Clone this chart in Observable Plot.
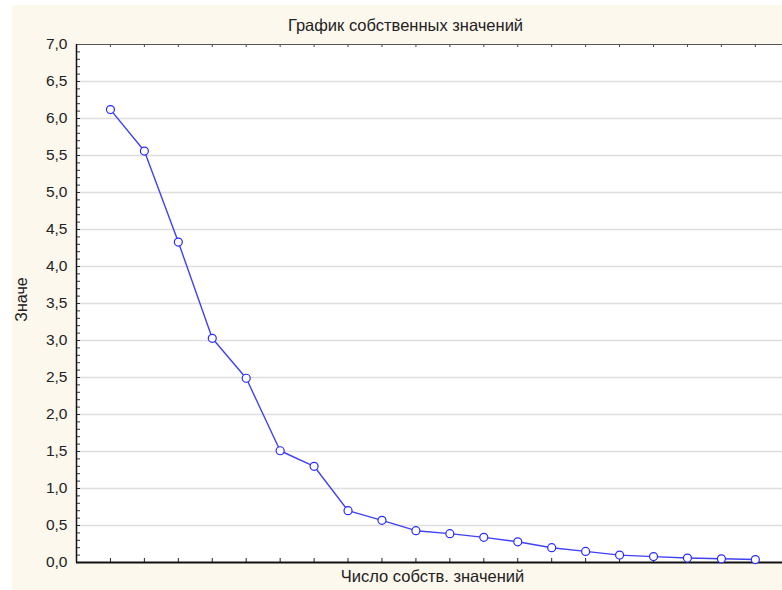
<!DOCTYPE html>
<html>
<head>
<meta charset="utf-8">
<script src="https://cdn.jsdelivr.net/npm/d3@7"></script>
<script src="https://cdn.jsdelivr.net/npm/@observablehq/plot@0.6"></script>
<style>
  html, body { margin: 0; padding: 0; background: #ffffff; }
  #wrap { position: relative; width: 782px; height: 590px; overflow: hidden; }
  #bg { position: absolute; left: 12px; top: 5px; width: 770px; height: 585px; background: #fdf8ee; }
  #chart { position: absolute; left: 0; top: 0; }
</style>
</head>
<body>
<div id="wrap"><div id="bg"></div><div id="chart"></div></div>
<script>
const title = "График собственных значений";
const xLabel = "Число собств. значений";
const yLabel = "Значе";
const componentNumbers = [1,2,3,4,5,6,7,8,9,10,11,12,13,14,15,16,17,18,19,20];
const eigenvalues = [6.12,5.56,4.33,3.03,2.49,1.51,1.30,0.70,0.57,0.43,0.39,0.34,0.28,0.20,0.15,0.10,0.08,0.06,0.05,0.04];
const yTickValues = [0,0.5,1,1.5,2,2.5,3,3.5,4,4.5,5,5.5,6,6.5,7];
const yGridValues = [0.5,1,1.5,2,2.5,3,3.5,4,4.5,5,5.5,6,6.5];
const yMinorTicks = d3.range(0, 71).map(i => i / 10);

const data = componentNumbers.map((n, i) => ({n, v: eigenvalues[i]}));

const W = 782, H = 590, ML = 76, MT = 44, MB = 28, MR = 0;
const PW = W - ML - MR, PH = H - MT - MB;
const blue = "#4040f5";
const font = "'Liberation Sans', Arial, sans-serif";

const chart = Plot.plot({
  width: W, height: H,
  marginLeft: ML, marginTop: MT, marginBottom: MB, marginRight: MR,
  style: {background: "transparent", fontFamily: font, color: "#222"},
  x: {domain: [0, 20.8], axis: null},
  y: {domain: [0, 7], axis: null},
  marks: [
    Plot.frame({fill: "white", stroke: null}),
    Plot.ruleY(yGridValues, {stroke: "#dedede", strokeWidth: 1.5}),
    Plot.tickY(yMinorTicks, {y: d => d, insetRight: PW - 4, stroke: "#333", strokeWidth: 1}),
    Plot.tickX(componentNumbers, {x: d => d, insetTop: PH - 4, stroke: "#222", strokeWidth: 1}),
    Plot.tickX(componentNumbers, {x: d => d, insetBottom: PH - 3, stroke: "#444", strokeWidth: 1}),
    Plot.ruleY([7], {stroke: "#555", strokeWidth: 1.2}),
    Plot.ruleX([0], {stroke: "#111", strokeWidth: 1.5}),
    Plot.ruleY([0], {stroke: "#111", strokeWidth: 2}),
    Plot.axisY(yTickValues, {
      tickSize: 0, tickPadding: 9, fontSize: 15.5, label: null,
      tickFormat: d => d.toFixed(1).replace(".", ",")
    }),
    Plot.line(data, {x: "n", y: "v", stroke: blue, strokeWidth: 1.4}),
    Plot.dot(data, {x: "n", y: "v", r: 4, stroke: "#2a2aff", strokeWidth: 1.2, fill: "white"}),
    Plot.text([title], {frameAnchor: "top", dy: -25, dx: -24, fontSize: 16.5, fill: "#222"}),
    Plot.text([xLabel], {frameAnchor: "bottom", dy: 19, dx: 3, fontSize: 16.5, fill: "#222"}),
    Plot.text([yLabel], {frameAnchor: "left", textAnchor: "middle", dx: -55, dy: -4, rotate: -90, fontSize: 16, fill: "#222"})
  ]
});
document.getElementById("chart").appendChild(chart);
</script>
</body>
</html>
